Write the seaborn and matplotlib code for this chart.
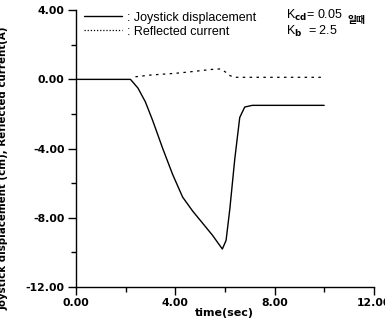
import matplotlib
matplotlib.use("Agg")
import matplotlib.pyplot as plt
import seaborn as sns
import pandas as pd
from matplotlib.ticker import MultipleLocator, FormatStrFormatter
from matplotlib.lines import Line2D

# ---- data ----
t_joy = [0.0, 2.2, 2.5, 2.8, 3.1, 3.5, 3.9, 4.3, 4.7, 5.1, 5.5, 5.9, 6.05, 6.2, 6.4, 6.6, 6.8, 7.1, 8.0, 9.0, 10.0]
joystick = [0.0, 0.0, -0.5, -1.3, -2.4, -4.0, -5.5, -6.8, -7.6, -8.3, -9.0, -9.8, -9.3, -7.5, -4.6, -2.2, -1.6, -1.5, -1.5, -1.5, -1.5]
t_ref = [2.4, 3.0, 3.5, 4.0, 4.5, 5.0, 5.5, 5.8, 6.0, 6.2, 6.4, 7.0, 8.0, 9.0, 10.0]
reflected = [0.15, 0.25, 0.3, 0.35, 0.42, 0.5, 0.58, 0.6, 0.45, 0.22, 0.12, 0.12, 0.12, 0.12, 0.12]
x_ticks = [0, 4, 8, 12]
y_ticks = [4, 0, -4, -8, -12]
legend_labels = [": Joystick displacement", ": Reflected current"]

sns.set_style("ticks")
plt.rcParams["axes.unicode_minus"] = False
for k in ["text.color", "axes.labelcolor", "xtick.color", "ytick.color", "axes.edgecolor"]:
    plt.rcParams[k] = "black"

fig = plt.figure(figsize=(3.85, 3.27), dpi=100)
ax = fig.add_axes([0.197, 0.122, 0.774, 0.847])

df_j = pd.DataFrame({"t": t_joy, "v": joystick})
df_r = pd.DataFrame({"t": t_ref, "v": reflected})
sns.lineplot(data=df_j, x="t", y="v", ax=ax, color="black", lw=1.0, sort=False)
sns.lineplot(data=df_r, x="t", y="v", ax=ax, color="black", lw=0.9, sort=False,
             linestyle=(0, (2, 3.5)))

ax.set_xlim(0, 12)
ax.set_ylim(-12, 4)
ax.set_xticks(x_ticks)
ax.set_yticks(y_ticks)
ax.xaxis.set_minor_locator(MultipleLocator(2))
ax.yaxis.set_minor_locator(MultipleLocator(2))
ax.xaxis.set_major_formatter(FormatStrFormatter("%.2f"))
ax.yaxis.set_major_formatter(FormatStrFormatter("%.2f"))
ax.tick_params(which="major", direction="out", length=6, width=1.0, labelsize=7.8, pad=2)
ax.tick_params(which="minor", direction="out", length=3.5, width=1.0)
for lab in ax.get_xticklabels() + ax.get_yticklabels():
    lab.set_fontweight("bold")
sns.despine(ax=ax)
for s in ["left", "bottom"]:
    ax.spines[s].set_linewidth(1.0)

ax.set_xlabel("time(sec)", fontsize=8, fontweight="bold", labelpad=0)
ax.set_ylabel("Joystick displacement (cm), Reflected current(A)", fontsize=7.4, fontweight="bold")
ax.yaxis.set_label_coords(-0.225, 0.43)

handles = [Line2D([], [], color="black", lw=1.0),
           Line2D([], [], color="black", lw=0.9, linestyle=(0, (1, 1.5)))]
ax.legend(handles, legend_labels, loc="upper left", bbox_to_anchor=(-0.01, 1.035),
          frameon=False, handlelength=3.0, handletextpad=0.4, labelspacing=0.15,
          prop={"family": "Liberation Sans", "size": 9})

fig.text(286 / 385, 1 - 15 / 327, r"K$_{\mathbf{cd}}$= 0.05", fontsize=9, family="Liberation Sans",
         va="center", ha="left")
fig.text(286 / 385, 1 - 31 / 327, r"K$_{\mathbf{b}}$  = 2.5", fontsize=9, family="Liberation Sans",
         va="center", ha="left")
fig.text(348 / 385, 1 - 20 / 327, "일때", fontsize=7, family=["Noto Sans CJK KR", "DejaVu Sans"],
         fontweight="bold", va="center", ha="left")

fig.savefig("out.png", dpi=100)
